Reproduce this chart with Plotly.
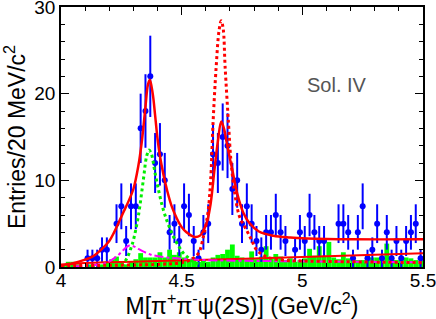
import numpy as np
import plotly.graph_objects as go

# ---------------- data ----------------
# data points (bin centres, GeV) and counts per 20 MeV
data_x = [4.11, 4.13, 4.15, 4.17, 4.19, 4.23, 4.25, 4.27, 4.29, 4.31, 4.33, 4.35, 4.37,
          4.39, 4.41, 4.43, 4.45, 4.47, 4.49, 4.51, 4.53, 4.55, 4.57, 4.59, 4.61, 4.63,
          4.65, 4.67, 4.69, 4.71, 4.73, 4.75, 4.77, 4.79, 4.81, 4.83, 4.85, 4.87, 4.89,
          4.91, 4.93, 4.97, 4.99, 5.01, 5.03, 5.05, 5.07, 5.09, 5.15, 5.17, 5.19, 5.21,
          5.23, 5.25, 5.27, 5.29, 5.31, 5.33, 5.35, 5.37, 5.39, 5.41, 5.43, 5.45, 5.47, 5.49]
data_y = [1, 1, 1, 2, 2, 5, 7, 3, 7, 7, 16, 18, 22,
          12, 13, 10, 4, 5, 3, 7, 6, 3, 1, 4, 5, 13,
          12, 15, 14, 9, 10, 5, 7, 5, 3, 2, 4, 4, 6,
          4, 3, 2, 4, 3, 6, 4, 3, 3, 5, 5, 4, 1,
          4, 7, 1, 2, 5, 1, 4, 1, 3, 1, 3, 4, 5, 1]

# sideband background histogram (75 bins of 20 MeV from 4.00)
bkg_edges_start = 4.0
bkg_bin_width = 0.02
bkg_vals = [0.2, 0.6, 0.6, 0.3, 0.0, 0.3, 0.3, 0.0, 0.3, 0.6,
            0.9, 1.2, 0.6, 0.3, 0.6, 0.9, 1.6, 1.1, 1.1, 1.1,
            1.7, 1.1, 2.0, 1.4, 1.7, 1.1, 0.9, 1.1, 0.6, 0.9,
            0.6, 1.1, 1.4, 1.5, 2.0, 2.6, 1.3, 1.1, 0.9, 1.8,
            0.9, 1.2, 2.4, 1.0, 1.5, 1.2, 0.8, 1.0, 0.6, 0.8,
            1.0, 2.1, 1.3, 2.4, 1.3, 2.9, 1.1, 0.9, 1.7, 1.0,
            0.8, 0.8, 0.8, 1.3, 1.1, 1.1, 1.1, 2.7, 1.1, 0.8,
            1.1, 1.1, 1.0, 0.8, 0.7]

# total fit (red solid)
fit_x = [4.00, 4.05, 4.10, 4.13, 4.17, 4.20, 4.22, 4.24, 4.26, 4.28, 4.30, 4.32, 4.335,
         4.35, 4.36, 4.368, 4.38, 4.39, 4.40, 4.41, 4.425, 4.44, 4.46, 4.48, 4.50, 4.52,
         4.55, 4.575, 4.59, 4.605, 4.62, 4.635, 4.65, 4.664, 4.675, 4.687, 4.70, 4.71,
         4.73, 4.755, 4.78, 4.82, 4.88, 4.95, 5.02, 5.20, 5.50]
fit_y = [0.25, 0.45, 0.85, 1.2, 2.1, 3.0, 4.0, 5.2, 6.4, 7.6, 9.0, 11.6, 14.5,
         18.5, 21.0, 21.6, 20.0, 17.5, 14.8, 12.8, 10.6, 8.8, 6.9, 5.6, 4.6, 4.0,
         3.5, 3.6, 4.2, 5.2, 7.3, 11.0, 14.5, 16.8, 16.0, 14.3, 12.5, 11.2,
         8.5, 6.3, 5.1, 4.1, 3.6, 3.4, 3.3, 3.2, 3.2]

# second resonance alone (red dotted)
r2_x = [4.00, 4.20, 4.40, 4.50, 4.54, 4.57, 4.59, 4.60, 4.61, 4.62, 4.63, 4.643, 4.655,
        4.664, 4.672, 4.68, 4.694, 4.705, 4.72, 4.74, 4.77, 4.79, 4.81, 4.85, 4.92, 5.00, 5.50]
r2_y = [0.15, 0.2, 0.3, 0.5, 0.9, 1.6, 3.5, 4.8, 6.5, 10.0, 16.6, 23.1, 27.3,
        28.4, 27.5, 23.1, 16.6, 12.0, 8.5, 5.8, 4.2, 3.1, 2.0, 1.2, 0.8, 0.7, 0.5]

# first resonance alone (green dashed)
r1_x = [4.20, 4.25, 4.273, 4.29, 4.30, 4.32, 4.341, 4.355, 4.365, 4.375, 4.39, 4.404,
        4.42, 4.438, 4.455, 4.473, 4.49, 4.507, 4.53, 4.548, 4.58, 4.62]
r1_y = [0.0, 0.2, 1.0, 2.2, 3.1, 5.8, 10.0, 12.8, 13.5, 13.0, 10.8, 8.9,
        7.0, 5.4, 4.2, 3.1, 2.3, 1.6, 1.0, 0.6, 0.3, 0.1]

# other component (magenta dash-dot)
mg_x = [4.05, 4.10, 4.15, 4.19, 4.23, 4.26, 4.28, 4.30, 4.32, 4.34, 4.37, 4.41, 4.48,
        4.60, 4.80, 5.00, 5.50]
mg_y = [0.05, 0.15, 0.25, 0.5, 1.2, 2.0, 2.45, 2.4, 2.1, 1.8, 1.45, 1.2, 1.0,
        0.8, 0.7, 0.65, 0.55]

# background (red solid, low)
bg_x = [4.00, 4.05, 4.10, 4.20, 4.30, 4.40, 4.60, 4.80, 5.00, 5.20, 5.40, 5.50]
bg_y = [0.2, 0.35, 0.45, 0.55, 0.62, 0.7, 0.83, 0.98, 1.15, 1.32, 1.5, 1.58]

x_tickvals = [4, 4.5, 5, 5.5]
x_ticktext = ["4", "4.5", "5", "5.5"]
y_tickvals = [0, 10, 20, 30]
y_ticktext = ["0", "10", "20", "30"]

# ---------------- figure ----------------
FONT = "Liberation Sans, Arial, Helvetica, sans-serif"
fig = go.Figure()

bkg_centres = [bkg_edges_start + bkg_bin_width * (i + 0.5) for i in range(len(bkg_vals))]
fig.add_trace(go.Bar(x=bkg_centres, y=bkg_vals, width=bkg_bin_width,
                     marker=dict(color="#00ff00", line=dict(width=0)),
                     showlegend=False, hoverinfo="skip"))

fig.add_trace(go.Scatter(x=data_x, y=data_y, mode="markers",
                         marker=dict(color="#0000ff", size=6),
                         error_y=dict(type="data", array=list(np.sqrt(data_y)),
                                      color="#0000ff", thickness=2, width=0),
                         showlegend=False))

def curve(x, y, color, dash, width):
    fig.add_trace(go.Scatter(x=x, y=y, mode="lines",
                             line=dict(color=color, dash=dash, width=width,
                                       shape="spline", smoothing=1.0),
                             showlegend=False, hoverinfo="skip"))

curve(bg_x, bg_y, "#ff0000", "solid", 2)
curve(mg_x, mg_y, "#ff00ff", "dashdot", 2)
curve(r1_x, r1_y, "#00ee00", "dot", 3)
curve(r2_x, r2_y, "#ff0000", "dot", 3)
curve(fit_x, fit_y, "#ff0000", "solid", 2.5)

fig.add_annotation(x=5.145, y=21.0, text="Sol. IV", showarrow=False,
                   font=dict(family=FONT, size=20, color="#555555"))

axis_common = dict(showline=True, linecolor="black", linewidth=1.5, mirror="ticks",
                   ticks="inside", ticklen=8, tickwidth=1.2, tickcolor="black",
                   showgrid=False, zeroline=False, automargin=False,
                   ticklabeloverflow="allow",
                   tickfont=dict(family=FONT, size=19, color="black"))

fig.update_xaxes(range=[4, 5.5], tickvals=x_tickvals, ticktext=x_ticktext,
                 ticklabelstandoff=-5,
                 minor=dict(ticks="inside", ticklen=4, dtick=0.1, tick0=4, tickcolor="black", tickwidth=1.2),
                 title=dict(text="M[π<sup>+</sup>π<sup>-</sup>ψ(2S)] (GeV/c<sup>2</sup>)",
                            font=dict(family=FONT, size=23, color="black"), standoff=8),
                 **axis_common)
fig.update_yaxes(range=[0, 30], tickvals=y_tickvals, ticktext=y_ticktext,
                 minor=dict(ticks="inside", ticklen=4, dtick=2, tick0=0, tickcolor="black", tickwidth=1.2),
                 title=dict(text="Entries/20 MeV/c<sup>2</sup>",
                            font=dict(family=FONT, size=23, color="black"), standoff=22),
                 **axis_common)

fig.update_layout(width=436, height=319, margin=dict(l=61, r=13, t=7, b=52),
                  plot_bgcolor="white", paper_bgcolor="white", barmode="overlay",
                  showlegend=False)

fig.write_html("out.html", config={"displayModeBar": False},
               post_script="document.body.style.margin='0';")
